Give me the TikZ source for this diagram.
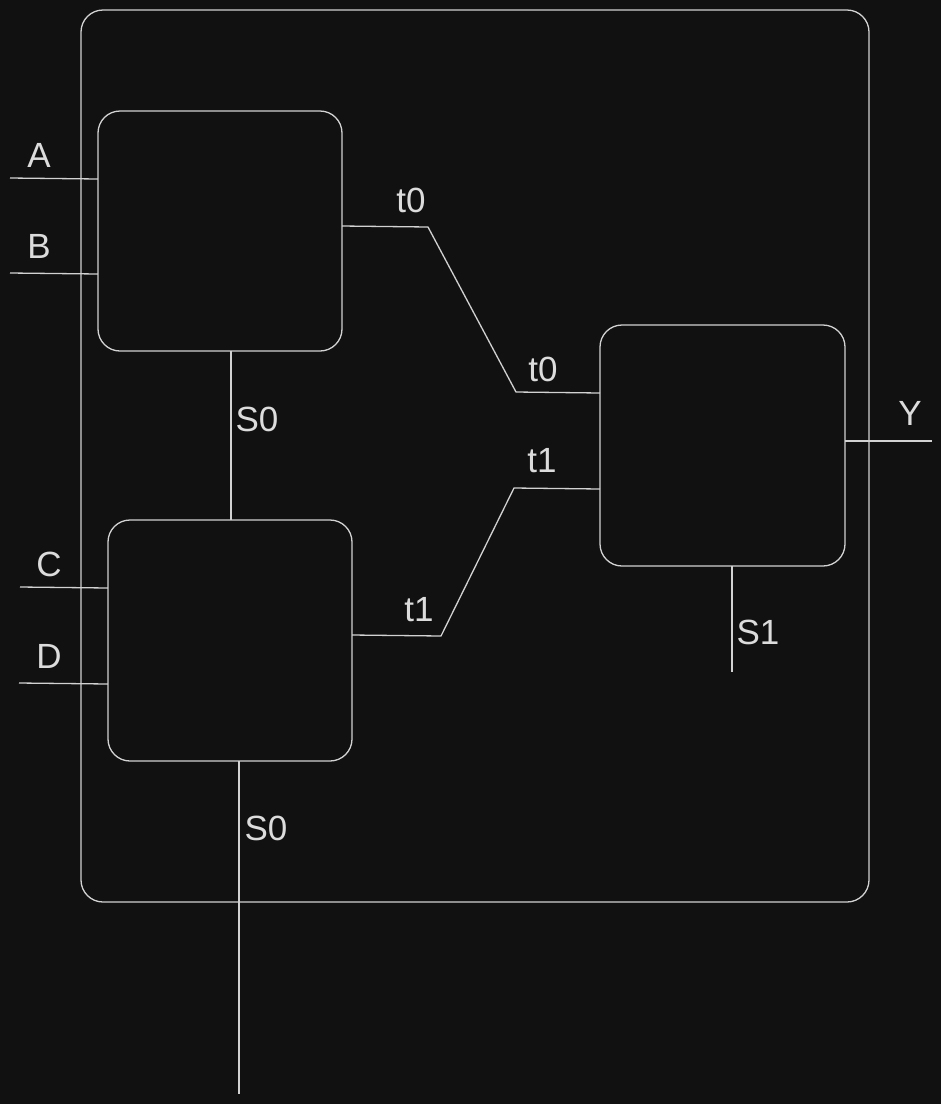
\documentclass[tikz,border=0pt]{standalone}
\usepackage{fontspec}
\setmainfont{Liberation Sans}
\definecolor{bg}{HTML}{111111}
\definecolor{ln}{HTML}{D2D2D2}
\definecolor{tx}{HTML}{DCDCDC}
\begin{document}
\begin{tikzpicture}[x=1pt,y=-1pt,
  wire/.style={draw=ln,line width=1.3pt},
  blk/.style={draw=ln,line width=1.3pt,rounded corners=22pt},
  lbl/.style={text=tx,font=\fontsize{35}{40}\selectfont,inner sep=0pt,anchor=center}]
\fill[bg] (0,0) rectangle (941,1104);
\useasboundingbox (0,0) rectangle (941,1104);
% outer frame
\draw[blk] (81,10) rectangle (869,902);
% blocks
\draw[blk] (98,111) rectangle (342,351);
\draw[blk] (108,520) rectangle (352,761);
\draw[blk] (600,325) rectangle (845,566);
% coordinates
\coordinate (a0) at (10,178); \coordinate (a1) at (98,179);
\coordinate (b0) at (10,273); \coordinate (b1) at (98,274);
\coordinate (c0) at (20,587); \coordinate (c1) at (108,588);
\coordinate (d0) at (19,683); \coordinate (d1) at (108,684);
\coordinate (s0a) at (231,351); \coordinate (s0b) at (231,520);
\coordinate (s0c) at (239,761); \coordinate (s0d) at (239,1094);
\coordinate (t0a) at (342,226); \coordinate (t0b) at (428,227);
\coordinate (t0c) at (516,392); \coordinate (t0d) at (600,393);
\coordinate (t1a) at (352,635); \coordinate (t1b) at (441,636);
\coordinate (t1c) at (514,488); \coordinate (t1d) at (600,489);
\coordinate (y0) at (845,441); \coordinate (y1) at (932,441);
\coordinate (s1a) at (732,566); \coordinate (s1b) at (732,672);
% wires
\draw[wire] (a0) -- (a1);
\draw[wire] (b0) -- (b1);
\draw[wire] (c0) -- (c1);
\draw[wire] (d0) -- (d1);
\draw[wire] (s0a) -- (s0b);
\draw[wire] (s0c) -- (s0d);
\draw[wire] (t0a) -- (t0b) -- (t0c) -- (t0d);
\draw[wire] (t1a) -- (t1b) -- (t1c) -- (t1d);
\draw[wire] (y0) -- (y1);
\draw[wire] (s1a) -- (s1b);
% labels
\node[lbl] (la) at (39,155) {A};
\node[lbl] (lb) at (39,246) {B};
\node[lbl] (lc) at (49,564) {C};
\node[lbl] (ld) at (49,656) {D};
\node[lbl] (ls0a) at (257,419) {S0};
\node[lbl] (ls0b) at (266,828) {S0};
\node[lbl] (lt0a) at (411,200) {t0};
\node[lbl] (lt0b) at (543,369) {t0};
\node[lbl] (lt1a) at (419,610) {t1};
\node[lbl] (lt1b) at (542,461) {t1};
\node[lbl] (ly) at (910,413) {Y};
\node[lbl] (ls1) at (758,632) {S1};
\end{tikzpicture}
\end{document}
